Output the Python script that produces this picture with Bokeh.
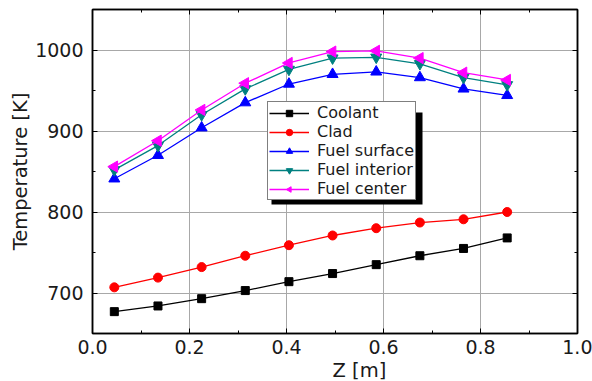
import numpy as np
from bokeh.plotting import figure
from bokeh.models import (LinearAxis, SingleIntervalTicker, Legend, LegendItem,
                          BoxAnnotation, Range1d, Grid, PrintfTickFormatter,
                          CustomJSTickFormatter, ColumnDataSource, Title)
from bokeh.embed import file_html
from bokeh.resources import INLINE

# ---- data ----
z = [0.045, 0.135, 0.225, 0.315, 0.405, 0.495, 0.585, 0.675, 0.765, 0.855]
coolant = [677, 684, 693, 703, 714, 724, 735, 746, 755, 768]
clad = [707, 719, 732, 746, 759, 771, 780, 787, 791, 800]
fuel_surface = [841, 870, 904, 935, 958, 970, 973, 966, 952, 944]
fuel_interior = [852, 882, 920, 952, 976, 990, 991, 983, 966, 957]
fuel_center = [856, 888, 926, 959, 984, 998, 999, 990, 972, 963]
series_names = ["Coolant", "Clad", "Fuel surface", "Fuel interior", "Fuel center"]

FONT = "DejaVu Sans"
TXT = "#1a1a1a"

p = figure(width=592, height=381, output_backend="svg", toolbar_location=None,
           x_range=Range1d(0, 1), y_range=Range1d(650, 1050),
           x_axis_type=None, y_axis_type=None,
           min_border_left=92, min_border_right=15, min_border_top=9, min_border_bottom=0)
p.outline_line_color = "black"
p.outline_line_width = 1.5
p.background_fill_color = "white"
p.border_fill_color = "white"

xt = SingleIntervalTicker(interval=0.2, num_minor_ticks=2)
yt = SingleIntervalTicker(interval=100, num_minor_ticks=2)
blank = CustomJSTickFormatter(code="return ''")

def style(ax, labels=True):
    ax.axis_line_color = "black"
    ax.axis_line_width = 1.5
    ax.major_tick_in = 5
    ax.major_tick_out = 0
    ax.minor_tick_in = 3
    ax.minor_tick_out = 0
    ax.major_tick_line_color = "black"
    ax.minor_tick_line_color = "black"
    ax.major_tick_line_width = 1
    ax.minor_tick_line_width = 1
    ax.major_label_text_font = FONT
    ax.major_label_text_font_size = "19px"
    ax.major_label_text_color = TXT
    ax.axis_label_text_font = FONT
    ax.axis_label_text_font_size = "19.5px"
    ax.axis_label_text_font_style = "normal"
    ax.axis_label_text_color = TXT
    if not labels:
        ax.formatter = blank
        ax.major_label_standoff = 0

xb = LinearAxis(ticker=xt, formatter=PrintfTickFormatter(format="%.1f"))
style(xb)
xb.major_label_standoff = 6
p.add_layout(xb, "below")

# x axis label as a bottom title, offset to sit right of centre as in the reference
xtitle = Title(text="Z [m]", align="left", offset=240, standoff=0,
               text_font=FONT, text_font_size="19.5px", text_font_style="normal",
               text_color=TXT)
p.add_layout(xtitle, "below")

yl = LinearAxis(ticker=yt, axis_label="Temperature [K]")
style(yl)
yl.major_label_standoff = 9
yl.axis_label_standoff = 0
p.add_layout(yl, "left")

xa = LinearAxis(ticker=xt)
style(xa, labels=False)
p.add_layout(xa, "above")
yr = LinearAxis(ticker=yt)
style(yr, labels=False)
p.add_layout(yr, "right")

p.add_layout(Grid(dimension=0, ticker=xt, grid_line_color="#a8a8a8", grid_line_width=1))
p.add_layout(Grid(dimension=1, ticker=yt, grid_line_color="#a8a8a8", grid_line_width=1))

colors = ["black", "#ff0000", "#0000ff", "#008080", "#ff00ff"]
markers = ["square", "circle", "triangle", "inverted_triangle", "left"]
sizes = [8, 9, 11, 11, 11]
data = [coolant, clad, fuel_surface, fuel_interior, fuel_center]

items = []
for name, ys, c, m, s in zip(series_names, data, colors, markers, sizes):
    src = ColumnDataSource(dict(x=z, y=ys))
    ln = p.line("x", "y", source=src, line_color=c, line_width=1.3)
    if m == "left":
        sc = p.ngon("x", "y", source=src, radius=6.5, radius_units="screen", n=3,
                    angle=np.pi / 2, fill_color=c, line_color=c)
    else:
        sc = p.scatter("x", "y", source=src, marker=m, size=s, fill_color=c, line_color=c)
    items.append(LegendItem(label=name, renderers=[ln, sc]))

# legend shadow
shadow = BoxAnnotation(left=179, right=330, bottom=129, top=221,
                       left_units="screen", right_units="screen",
                       bottom_units="screen", top_units="screen",
                       fill_color="black", fill_alpha=1, line_color=None)
p.add_layout(shadow)

leg = Legend(items=items, location=(175, 133), orientation="vertical",
             border_line_color="black", border_line_width=1,
             background_fill_color="white", background_fill_alpha=1,
             label_text_font=FONT, label_text_font_size="16px", label_text_color=TXT,
             glyph_width=40, glyph_height=16, label_height=16, label_standoff=8,
             spacing=-2, padding=1, margin=0)
p.add_layout(leg, "center")

open("out.html", "w").write(file_html(p, INLINE))
